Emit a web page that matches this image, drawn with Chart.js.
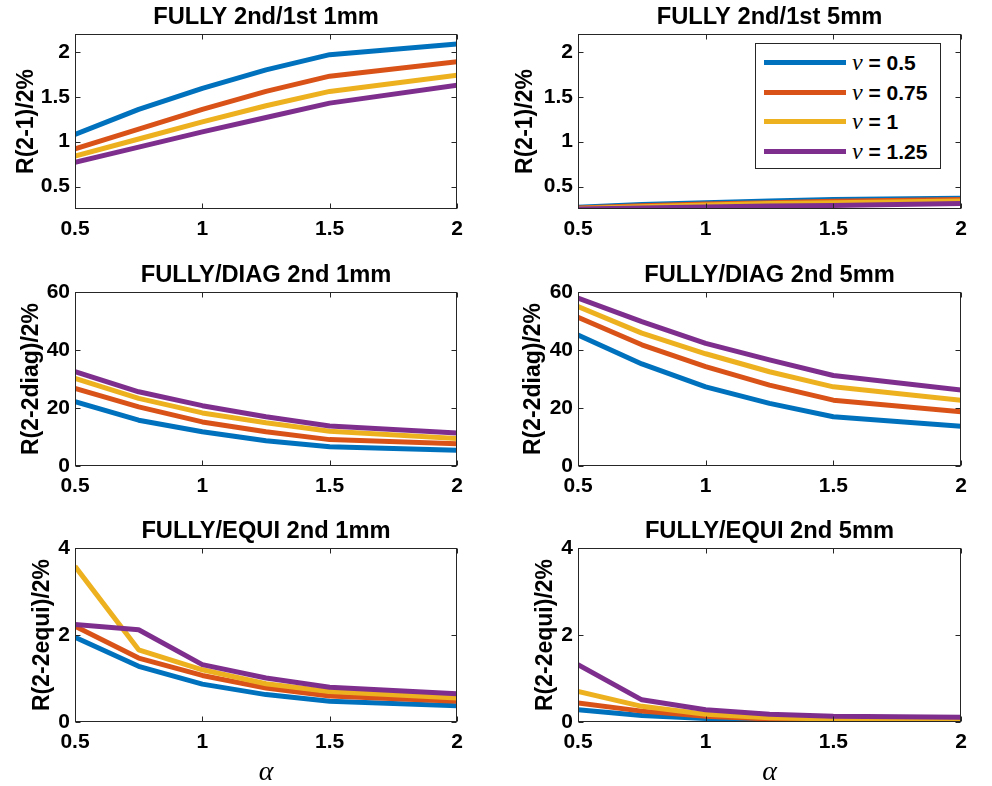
<!DOCTYPE html>
<html>
<head>
<meta charset="utf-8">
<script src="https://cdn.jsdelivr.net/npm/chart.js@4.4.1/dist/chart.umd.min.js"></script>
<style>
  body { margin: 0; background: #fff; width: 992px; height: 786px; position: relative; overflow: hidden; }
  canvas { position: absolute; }
  .legend { position: absolute; left: 755px; top: 43px; width: 184px; height: 124px; border: 1px solid #262626; background: #fff;
            font-family: "Liberation Sans", Arial, sans-serif; font-weight: bold; font-size: 21px; color: #000; }
  .legend .row { position: absolute; left: 0; height: 24px; line-height: 24px; white-space: nowrap; }
  .legend .swatch { position: absolute; left: 8px; top: 10px; width: 82px; height: 5px; }
  .legend .txt { position: absolute; left: 96px; top: 0; }
  .legend .nu { font-family: "Liberation Serif", serif; font-style: italic; font-weight: normal; font-size: 24px; }
</style>
</head>
<body>
<div class="legend" id="legend"></div>
<script>
// x values (alpha) and series labels (nu)
const alpha = [0.5, 0.75, 1, 1.25, 1.5, 2];
const nuLabels = ['0.5', '0.75', '1', '1.25'];
const colors = ['#0072BD', '#D95319', '#EDB120', '#7E2F8E'];
const xTicks = [0.5, 1, 1.5, 2];

// one row per nu value
const ratio21_1mm = [
  [1.08, 1.36, 1.595, 1.80, 1.97, 2.09],
  [0.92, 1.14, 1.36, 1.56, 1.73, 1.89],
  [0.84, 1.03, 1.22, 1.40, 1.56, 1.74],
  [0.77, 0.94, 1.11, 1.27, 1.43, 1.63]
];
const ratio21_5mm = [
  [0.27, 0.30, 0.32, 0.34, 0.355, 0.37],
  [0.26, 0.285, 0.305, 0.32, 0.335, 0.355],
  [0.255, 0.275, 0.295, 0.31, 0.32, 0.34],
  [0.25, 0.262, 0.273, 0.283, 0.29, 0.31]
];
const diag_1mm = [
  [22.2, 15.8, 11.8, 8.7, 6.6, 5.4],
  [26.8, 20.4, 15.2, 11.8, 9.1, 7.7],
  [30.2, 23.3, 18.3, 14.9, 12.0, 9.5],
  [32.5, 25.6, 20.8, 17.0, 13.8, 11.4]
];
const diag_5mm = [
  [45.2, 35.2, 27.3, 21.6, 17.0, 13.7],
  [51.3, 41.8, 34.3, 27.9, 22.7, 18.7],
  [55.0, 45.8, 38.7, 32.5, 27.3, 22.7],
  [57.9, 49.8, 42.3, 36.6, 31.2, 26.2]
];
const equi_1mm = [
  [1.95, 1.28, 0.87, 0.63, 0.475, 0.375],
  [2.2, 1.47, 1.07, 0.78, 0.6, 0.475],
  [3.58, 1.66, 1.2, 0.88, 0.70, 0.55],
  [2.24, 2.12, 1.32, 1.01, 0.80, 0.65]
];
const equi_5mm = [
  [0.28, 0.15, 0.08, 0.04, 0.025, 0.015],
  [0.44, 0.25, 0.13, 0.07, 0.045, 0.03],
  [0.70, 0.36, 0.18, 0.10, 0.07, 0.05],
  [1.32, 0.51, 0.28, 0.18, 0.13, 0.11]
];

const ticks21 = [0.5, 1, 1.5, 2];
const ticksDiag = [0, 20, 40, 60];
const ticksEqui = [0, 2, 4];

const FONT = '"Liberation Sans", Arial, sans-serif';
const AXIS_W = 75, TITLE_H = 34;
const cols = [{ left: 75, right: 457 }, { left: 578, right: 961 }];
const rows = [{ top: 34, bottom: 209, bottomH: 30 }, { top: 292, bottom: 466, bottomH: 30 }, { top: 548, bottom: 722, bottomH: 63 }];

const panels = [
  { title: 'FULLY 2nd/1st 1mm', ylabel: 'R(2-1)/2%', data: ratio21_1mm, ymin: 0.25, ymax: 2.2, yticks: ticks21, r: 0, c: 0, labelDist: 48 },
  { title: 'FULLY 2nd/1st 5mm', ylabel: 'R(2-1)/2%', data: ratio21_5mm, ymin: 0.25, ymax: 2.2, yticks: ticks21, r: 0, c: 1, labelDist: 52 },
  { title: 'FULLY/DIAG 2nd 1mm', ylabel: 'R(2-2diag)/2%', data: diag_1mm, ymin: 0, ymax: 60, yticks: ticksDiag, r: 1, c: 0, labelDist: 43 },
  { title: 'FULLY/DIAG 2nd 5mm', ylabel: 'R(2-2diag)/2%', data: diag_5mm, ymin: 0, ymax: 60, yticks: ticksDiag, r: 1, c: 1, labelDist: 44 },
  { title: 'FULLY/EQUI 2nd 1mm', ylabel: 'R(2-2equi)/2%', data: equi_1mm, ymin: 0, ymax: 4, yticks: ticksEqui, r: 2, c: 0, labelDist: 32.5, xlabel: 'α' },
  { title: 'FULLY/EQUI 2nd 5mm', ylabel: 'R(2-2equi)/2%', data: equi_5mm, ymin: 0, ymax: 4, yticks: ticksEqui, r: 2, c: 1, labelDist: 32, xlabel: 'α' }
];

// box around the axes with inward ticks on all four sides
const framePlugin = {
  id: 'frame',
  afterDraw(chart) {
    const { ctx, chartArea: a, scales: { x, y } } = chart;
    const L = Math.round(a.left) + 0.5, R = Math.round(a.right) - 0.5;
    const T = Math.round(a.top) + 0.5, B = Math.round(a.bottom) - 0.5;
    ctx.save();
    ctx.strokeStyle = '#262626';
    ctx.lineWidth = 1;
    ctx.strokeRect(L, T, R - L, B - T);
    ctx.beginPath();
    x.ticks.forEach(t => {
      const px = Math.round(x.getPixelForValue(t.value)) + 0.5;
      ctx.moveTo(px, B); ctx.lineTo(px, B - 5);
      ctx.moveTo(px, T); ctx.lineTo(px, T + 5);
    });
    y.ticks.forEach(t => {
      const py = Math.round(y.getPixelForValue(t.value)) + 0.5;
      ctx.moveTo(L, py); ctx.lineTo(L + 5, py);
      ctx.moveTo(R, py); ctx.lineTo(R - 5, py);
    });
    ctx.stroke();
    ctx.restore();
  }
};

const fmt = v => String(+Number(v).toFixed(2));

panels.forEach(p => {
  const col = cols[p.c], row = rows[p.r];
  const w = (col.right - col.left) + 2 * AXIS_W;
  const h = TITLE_H + (row.bottom - row.top) + row.bottomH;
  const canvas = document.createElement('canvas');
  canvas.width = w; canvas.height = h;
  canvas.style.width = w + 'px'; canvas.style.height = h + 'px';
  canvas.style.left = (col.left - AXIS_W) + 'px';
  canvas.style.top = (row.top - TITLE_H) + 'px';
  document.body.appendChild(canvas);

  new Chart(canvas, {
    type: 'line',
    data: {
      datasets: p.data.map((vals, i) => ({
        label: 'ν = ' + nuLabels[i],
        data: alpha.map((a, j) => ({ x: a, y: vals[j] })),
        borderColor: colors[i],
        backgroundColor: colors[i],
        borderWidth: 5,
        pointRadius: 0,
        tension: 0,
        borderJoinStyle: 'round',
        order: 3 - i
      }))
    },
    options: {
      responsive: false,
      animation: false,
      events: [],
      layout: { padding: 0 },
      plugins: {
        legend: { display: false },
        tooltip: { enabled: false },
        title: {
          display: true, text: p.title, color: '#000',
          font: { family: FONT, size: 23.7, weight: 'bold', lineHeight: 1.2 },
          padding: { top: 3.5, bottom: 2.06 }
        }
      },
      scales: {
        x: {
          type: 'linear', min: 0.5, max: 2,
          afterBuildTicks: s => { s.ticks = xTicks.map(v => ({ value: v })); },
          afterFit: s => { s.height = row.bottomH; },
          grid: { display: false, drawTicks: false },
          border: { display: false },
          ticks: { color: '#000', font: { family: FONT, size: 21, weight: 'bold' }, padding: 8, maxRotation: 0, autoSkip: false, callback: fmt },
          title: p.xlabel ? {
            display: true, text: p.xlabel, color: '#000',
            font: { family: '"Liberation Serif", serif', style: 'italic', size: 28, lineHeight: 0.8 },
            padding: { top: 0, bottom: 1 }
          } : { display: false }
        },
        y: {
          type: 'linear', min: p.ymin, max: p.ymax,
          afterBuildTicks: s => { s.ticks = p.yticks.map(v => ({ value: v })); },
          afterFit: s => { s.width = AXIS_W; },
          grid: { display: false, drawTicks: false },
          border: { display: false },
          ticks: { color: '#000', font: { family: FONT, size: 21, weight: 'bold' }, padding: 5, autoSkip: false, callback: fmt },
          title: {
            display: true, text: p.ylabel, color: '#000',
            font: { family: FONT, size: 23, weight: 'bold', lineHeight: 1.2 },
            padding: { top: AXIS_W - p.labelDist - 13.8, bottom: 0 }
          }
        },
        // empty right-hand axis so the title centres over the plot box
        yRight: {
          type: 'linear', position: 'right', min: 0, max: 1, display: true,
          afterFit: s => { s.width = AXIS_W; },
          grid: { display: false, drawTicks: false },
          border: { display: false },
          ticks: { display: false }
        }
      }
    },
    plugins: [framePlugin]
  });
});

// legend for the top-right panel, built from the series labels
const legend = document.getElementById('legend');
nuLabels.forEach((lab, i) => {
  const rowEl = document.createElement('div');
  rowEl.className = 'row';
  rowEl.style.top = (6 + i * 29.7) + 'px';
  rowEl.innerHTML = '<div class="swatch" style="background:' + colors[i] + '"></div>' +
    '<span class="txt"><span class="nu">ν</span> = ' + lab + '</span>';
  legend.appendChild(rowEl);
});
</script>
</body>
</html>
